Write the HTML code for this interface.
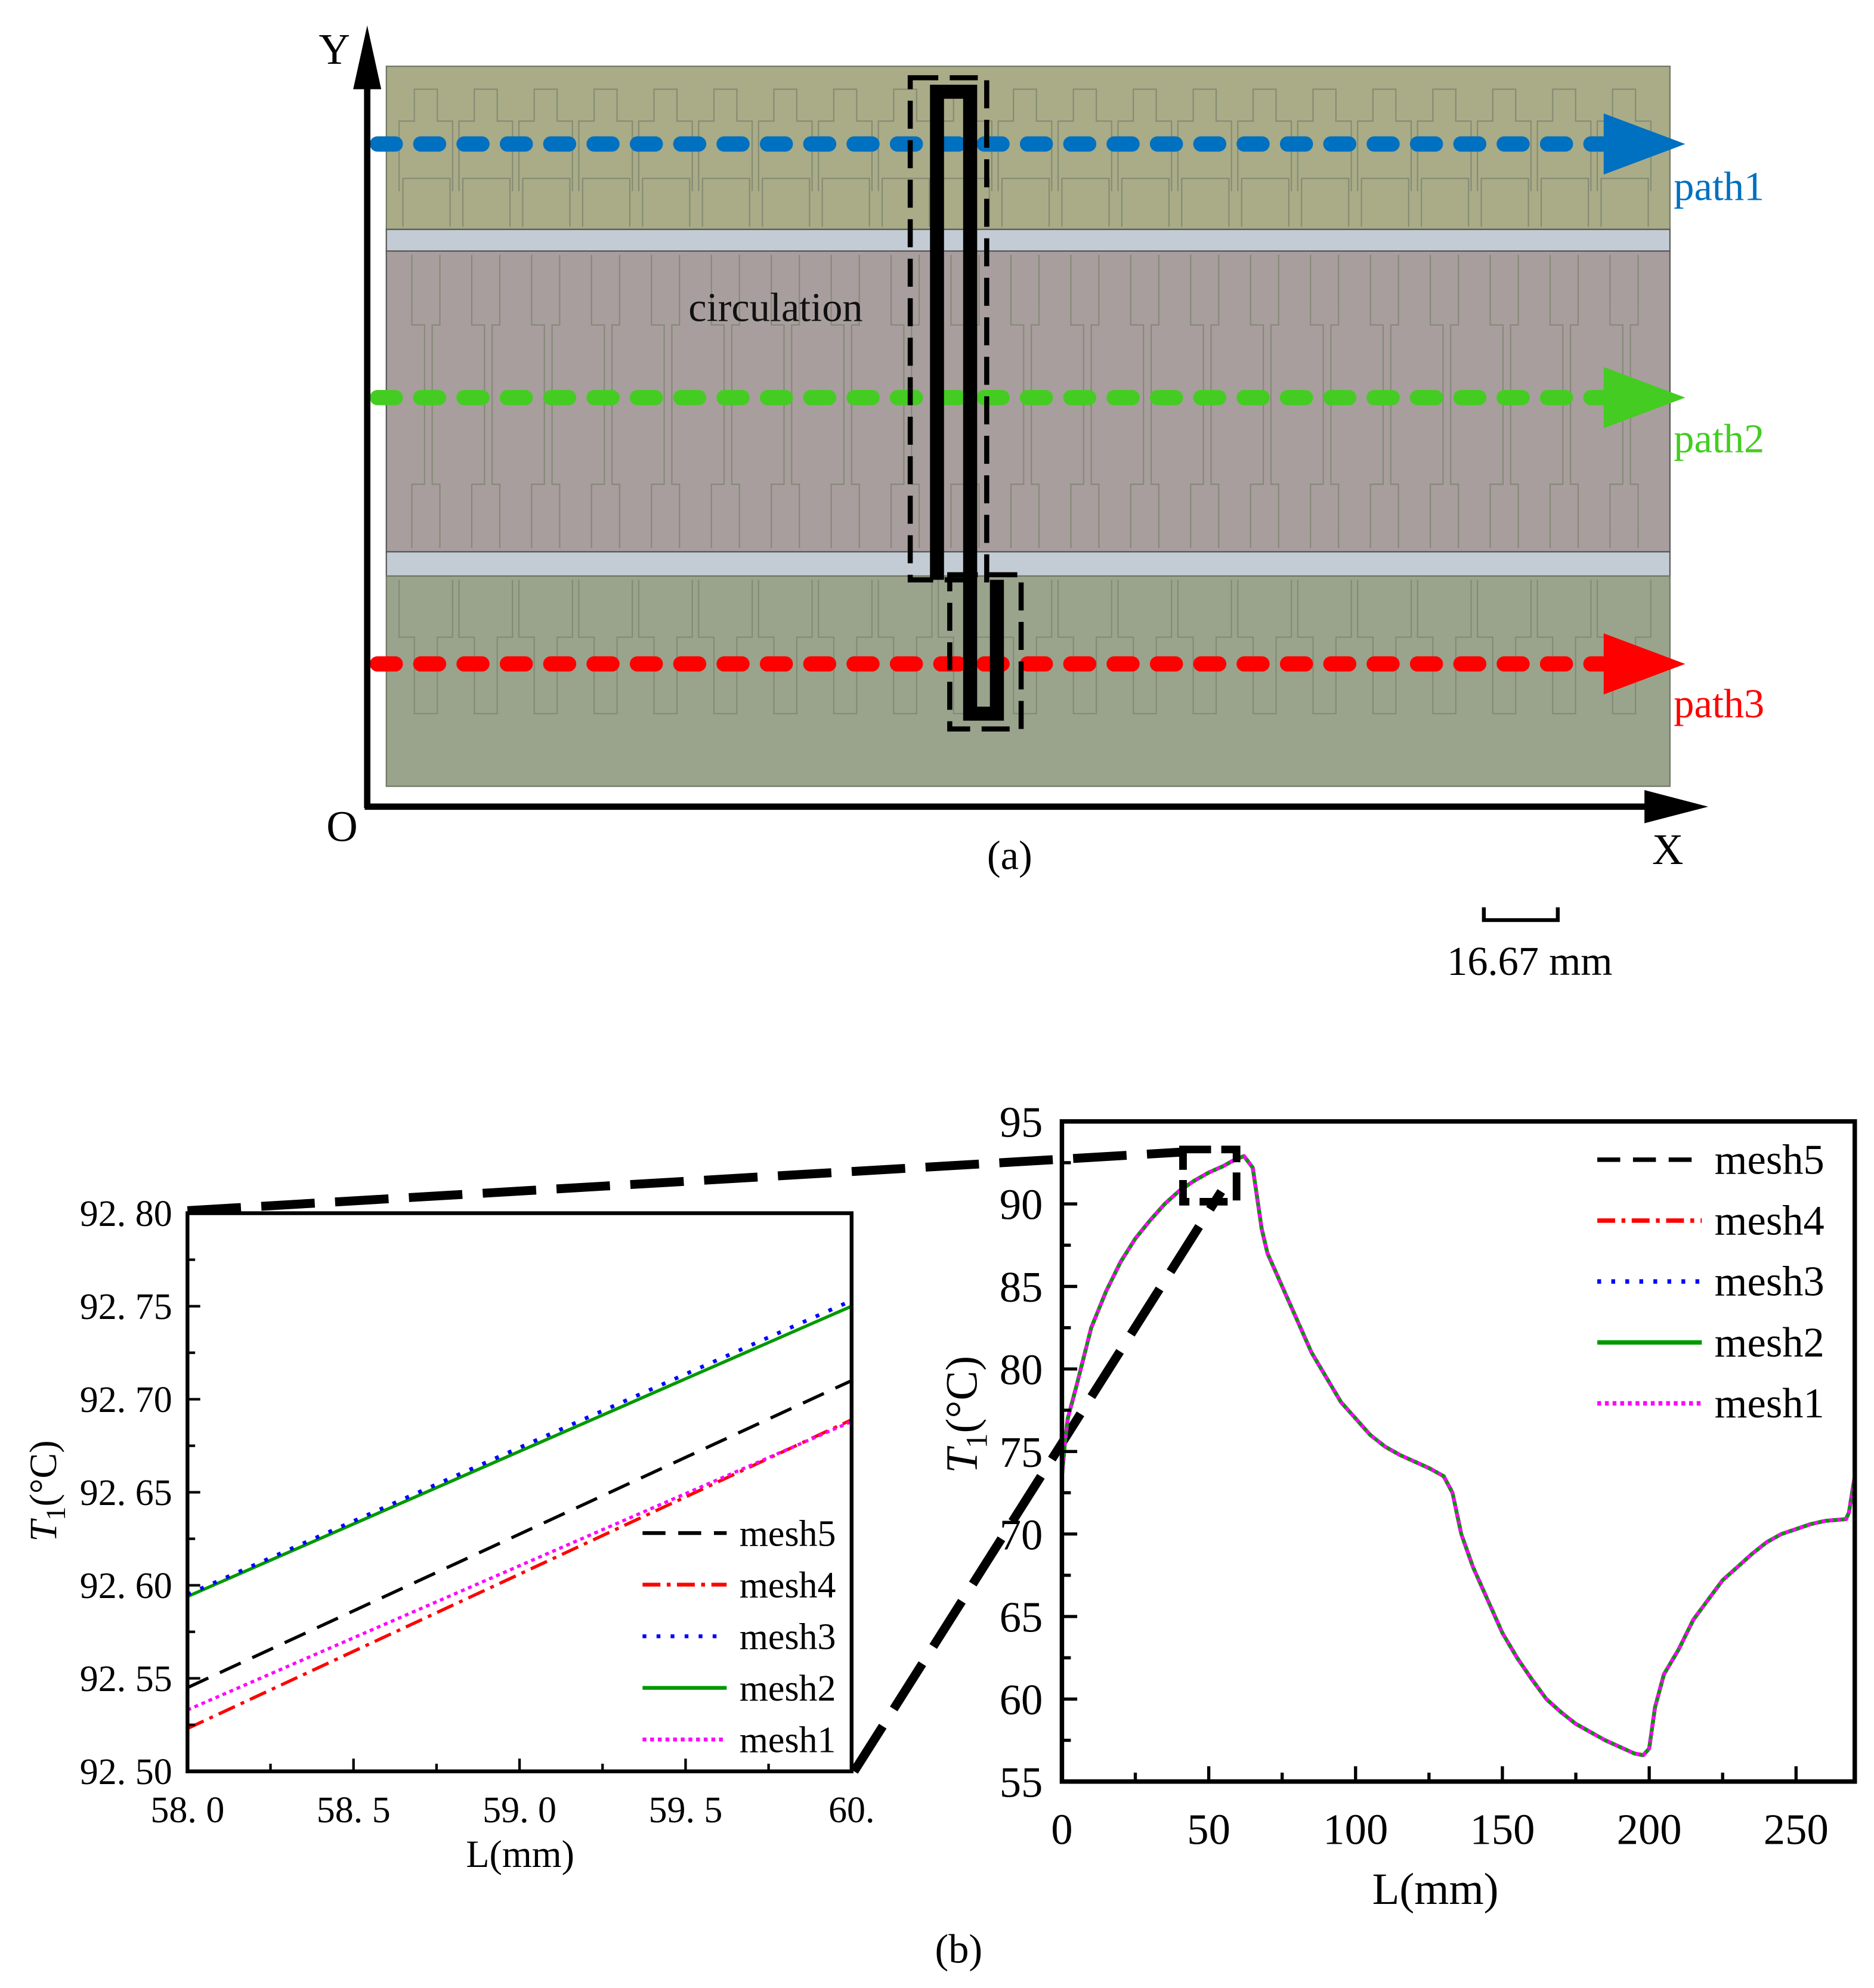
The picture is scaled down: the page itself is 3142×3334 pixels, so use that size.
<!DOCTYPE html>
<html><head><meta charset="utf-8"><style>
html,body{margin:0;padding:0;background:#fff}
svg{display:block}
text{font-family:"Liberation Serif",serif}
</style></head><body>
<svg id="fig" width="3142" height="3334" viewBox="0 0 1470 1560" xmlns="http://www.w3.org/2000/svg">
<defs>
<clipPath id="clipR"><rect x="833" y="880" width="622" height="518"/></clipPath>
<clipPath id="clipL"><rect x="147" y="952" width="521" height="438"/></clipPath>
</defs>
<g id="diagram">
<rect x="303" y="52" width="1007" height="128" fill="#a9ac87" stroke="#6f7560" stroke-width="1"/>
<rect x="303" y="180" width="1007" height="17" fill="#c3ccd4" stroke="#555" stroke-width="1"/>
<rect x="303" y="197" width="1007" height="236" fill="#a89e9d" stroke="#555" stroke-width="1"/>
<rect x="303" y="433" width="1007" height="19" fill="#c3ccd4" stroke="#555" stroke-width="1"/>
<rect x="303" y="452" width="1007" height="165" fill="#9aa48d" stroke="#6f7560" stroke-width="1"/>
<g id="fins" fill="none" stroke="#7d8470" stroke-width="1" opacity="0.8"></g>
<g id="paths"></g>
<text x="540" y="252" font-size="32" fill="#111">circulation</text>
<path d="M735 455 V72 H761 V560 H782 V455" fill="none" stroke="#000" stroke-width="11"/>
<rect x="714" y="61" width="60" height="394" fill="none" stroke="#000" stroke-width="4" stroke-dasharray="22 9"/>
<rect x="745" y="451" width="56" height="121" fill="none" stroke="#000" stroke-width="4" stroke-dasharray="22 9"/>
<line x1="288" y1="634" x2="288" y2="60" stroke="#000" stroke-width="5"/>
<polygon points="288,20 277,70 299,70" fill="#000"/>
<line x1="286" y1="633" x2="1300" y2="633" stroke="#000" stroke-width="5"/>
<polygon points="1340,633 1290,620 1290,646" fill="#000"/>
<text x="250" y="50" font-size="34">Y</text>
<text x="256" y="660" font-size="34">O</text>
<text x="1296" y="678" font-size="34">X</text>
<text x="1313" y="157" font-size="32" fill="#0070c0">path1</text>
<text x="1313" y="355" font-size="32" fill="#44cc22">path2</text>
<text x="1313" y="563" font-size="32" fill="#ff0000">path3</text>
<text x="792" y="682" font-size="32" text-anchor="middle">(a)</text>
<path d="M1164 712 V722 H1222 V712" fill="none" stroke="#000" stroke-width="3"/>
<text x="1200" y="765" font-size="32" text-anchor="middle">16.67 mm</text>
</g>
<g id="zoomlines">
<line x1="147" y1="950" x2="928" y2="904" stroke="#000" stroke-width="7" stroke-dasharray="42 16"/>
<line x1="670" y1="1390" x2="958" y2="935" stroke="#000" stroke-width="7" stroke-dasharray="42 16"/>
</g>
<g id="right"></g>
<g id="left"></g>
<text x="752" y="1540" font-size="32" text-anchor="middle">(b)</text>
</svg>
<script>
const NS="http://www.w3.org/2000/svg";
function mk(parent,tag,attrs,txt){const e=document.createElementNS(NS,tag);for(const k in attrs)e.setAttribute(k,attrs[k]);if(txt!==undefined)e.textContent=txt;parent.appendChild(e);return e;}

// ---- full profile data ----
const profL=[0,1,2,5,10,15,20,25,30,35,40,45,50,55,58,62,65,66,68,70,75,80,85,90,95,100,105,110,115,120,125,130,133,136,140,145,150,155,160,165,170,175,180,185,190,195,198,200,202,205,210,215,220,225,230,235,240,245,250,255,260,267,268,270];
const profT=[73.5,75.5,77,79,82.5,84.7,86.5,87.9,89,90,90.8,91.4,91.9,92.3,92.6,92.9,92.2,91,88.5,87,85,83,81,79.5,78,77,76,75.3,74.8,74.4,74,73.5,72.5,70,68,66,64,62.5,61.2,60,59.2,58.5,58,57.5,57.1,56.7,56.6,57,59.5,61.5,63,64.8,66,67.2,68,68.8,69.5,70,70.3,70.6,70.8,70.9,71.3,73.5];
const xTicksR=[0,50,100,150,200,250];
const yTicksR=[55,60,65,70,75,80,85,90,95];
// ---- inset data ----
const insetL=[58,60];
const mesh5=[92.545,92.71];
const mesh4=[92.523,92.689];
const mesh3=[92.595,92.753];
const mesh2=[92.594,92.75];
const mesh1=[92.533,92.688];
const xTicksL=[58,58.5,59,59.5,60];
const xTickLabelsL=['58. 0','58. 5','59. 0','59. 5','60.'];
const yTicksL=[92.5,92.55,92.6,92.65,92.7,92.75,92.8];
const yTickLabelsL=['92. 50','92. 55','92. 60','92. 65','92. 70','92. 75','92. 80'];

// ---- diagram fins ----
const fins=document.getElementById('fins');
for(let i=0;i<21;i++){
  const x=313+i*47;
  const f1=mk(fins,'path',{d:`M${x} 150 V95 H${x+12} V70 H${x+30} V95 H${x+42} V150 M${x+3} 178 V140 H${x+40} V178`});
  
  
  const f2=mk(fins,'path',{d:`M${x+10} 200 V255 H${x+20} V380 H${x+10} V430 M${x+32} 200 V255 H${x+26} V380 H${x+32} V430`});
  
  
  const f3=mk(fins,'path',{d:`M${x} 455 V500 H${x+12} V560 H${x+30} V500 H${x+42} V455`});
  
  
}
// ---- dashed paths ----
const pathsG=document.getElementById('paths');
const pathY=[113,312,521], pathC=['#0070c0','#44cc22','#ff0000'], pathN=['path1','path2','path3'];
for(let i=0;i<3;i++){
  const l=mk(pathsG,'line',{x1:296,y1:pathY[i],x2:1258,y2:pathY[i],stroke:pathC[i],'stroke-width':12,'stroke-dasharray':'14 20','stroke-linecap':'round'});
  
  
  const a=mk(pathsG,'polygon',{points:`1258,${pathY[i]-24} 1322,${pathY[i]} 1258,${pathY[i]+24}`,fill:pathC[i]});
  
  
}

const styles=[
 {n:'mesh5',c:'#000',d:'18 10',w:2.5},
 {n:'mesh4',c:'#ff0000',d:'14 5 3 5',w:2.5},
 {n:'mesh3',c:'#0000ff',d:'3 8',w:3},
 {n:'mesh2',c:'#009900',d:'',w:2.5},
 {n:'mesh1',c:'#ff00ff',d:'3 3',w:2.5}];

// right chart
const R=document.getElementById('right');
const xR=v=>833+(v-0)/270*622, yR=v=>1398-(v-55)/40*518;
const gr=mk(R,'g',{'clip-path':'url(#clipR)'});
['mesh5','mesh4','mesh3','mesh2','mesh1'].forEach((n,k)=>{
  const s=styles[k];
  const d=profL.map((v,i)=>(i?'L':'M')+xR(v).toFixed(1)+' '+yR(profT[i]).toFixed(1)).join(' ');
  const p=mk(gr,'path',{d:d,fill:'none',stroke:s.c,'stroke-width':3,'stroke-dasharray':s.d,'stroke-linejoin':'round'});
  
  
});
const fr=mk(R,'rect',{x:833,y:880,width:622,height:518,fill:'none',stroke:'#000','stroke-width':3.5});


for(let v=0;v<=270;v+=25){const t=mk(R,'line',{x1:xR(v),x2:xR(v),y1:1398,y2:1398-(v%50===0?12:7),stroke:'#000','stroke-width':2.5});
}
for(let v=55;v<=95;v+=2.5){const t=mk(R,'line',{x1:833,x2:833+(v%5===0?12:7),y1:yR(v),y2:yR(v),stroke:'#000','stroke-width':2.5});
}
xTicksR.forEach(v=>{const t=mk(R,'text',{x:xR(v),y:1447,'font-size':34,'text-anchor':'middle'},String(v));
});
yTicksR.forEach(v=>{const t=mk(R,'text',{x:818,y:yR(v)+12,'font-size':34,'text-anchor':'end'},String(v));
});
const xt=mk(R,'text',{x:1126,y:1494,'font-size':35,'text-anchor':'middle'},'L(mm)');

const yt=mk(R,'text',{x:0,y:0,'font-size':35,'text-anchor':'middle',transform:'translate(766 1110) rotate(-90)'});

mk(yt,'tspan',{'font-style':'italic'},'T');mk(yt,'tspan',{'font-size':24,dy:8},'1');mk(yt,'tspan',{dy:-8},'(°C)');
const zb=mk(R,'rect',{x:928,y:902,width:42,height:41,fill:'none',stroke:'#000','stroke-width':6,'stroke-dasharray':'22 8'});

styles.forEach((s,i)=>{const y=910+i*47.8;
 const l=mk(R,'line',{x1:1253,x2:1335,y1:y,y2:y,stroke:s.c,'stroke-width':3.5,'stroke-dasharray':s.d});
 
 const t=mk(R,'text',{x:1345,y:y+11,'font-size':33},s.n);
 });

// left inset
const L=document.getElementById('left');
const xL=v=>147+(v-58)/2*521, yL=v=>1390-(v-92.5)/0.3*438;
const gl=mk(L,'g',{'clip-path':'url(#clipL)'});
const insetSeries={mesh5:mesh5,mesh4:mesh4,mesh3:mesh3,mesh2:mesh2,mesh1:mesh1};
['mesh2','mesh3','mesh5','mesh4','mesh1'].forEach(n=>{
  const s=styles.find(q=>q.n===n);const arr=insetSeries[n];
  const d=insetL.map((v,i)=>(i?'L':'M')+xL(v).toFixed(1)+' '+yL(arr[i]).toFixed(1)).join(' ');
  const p=mk(gl,'path',{d:d,fill:'none',stroke:s.c,'stroke-width':s.w,'stroke-dasharray':s.d});
  
});
const fl=mk(L,'rect',{x:147,y:952,width:521,height:438,fill:'none',stroke:'#000','stroke-width':3});

for(let i=0;i<=8;i++){const v=58+i*0.25;const t=mk(L,'line',{x1:xL(v),x2:xL(v),y1:1390,y2:1390-(i%2===0?10:6),stroke:'#000','stroke-width':2});
}
for(let i=0;i<=12;i++){const v=92.5+i*0.025;const t=mk(L,'line',{x1:147,x2:147+(i%2===0?10:6),y1:yL(v),y2:yL(v),stroke:'#000','stroke-width':2});
}
xTicksL.forEach((v,i)=>{const t=mk(L,'text',{x:xL(v),y:1430,'font-size':29,'text-anchor':'middle'},xTickLabelsL[i]);
});
yTicksL.forEach((v,i)=>{const t=mk(L,'text',{x:135,y:yL(v)+10,'font-size':29,'text-anchor':'end'},yTickLabelsL[i]);
});
const xt2=mk(L,'text',{x:408,y:1465,'font-size':30,'text-anchor':'middle'},'L(mm)');

const yt2=mk(L,'text',{x:0,y:0,'font-size':30,'text-anchor':'middle',transform:'translate(44 1170) rotate(-90)'});

mk(yt2,'tspan',{'font-style':'italic'},'T');mk(yt2,'tspan',{'font-size':22,dy:7},'1');mk(yt2,'tspan',{dy:-7},'(°C)');
styles.forEach((s,i)=>{const y=1203+i*40.5;
 const l=mk(L,'line',{x1:504,x2:570,y1:y,y2:y,stroke:s.c,'stroke-width':3,'stroke-dasharray':s.d});
 
 const t=mk(L,'text',{x:580,y:y+10,'font-size':29},s.n);
 });
</script>
</body></html>
